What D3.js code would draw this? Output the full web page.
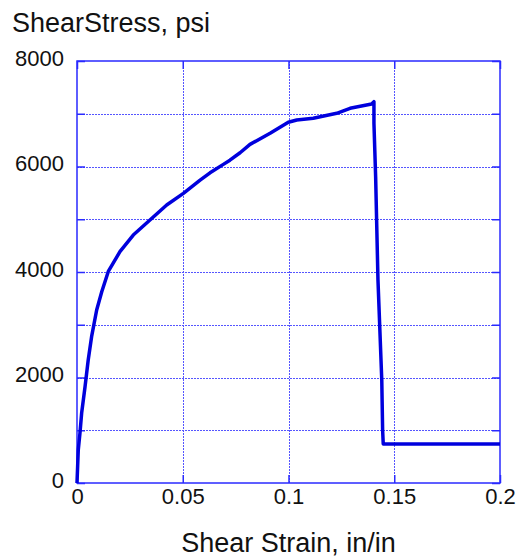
<!DOCTYPE html>
<html>
<head>
<meta charset="utf-8">
<script src="https://cdn.jsdelivr.net/npm/d3@7"></script>
<style>
  body { margin: 0; background: #fff; }
  svg { font-family: "Liberation Sans", Arial, sans-serif; }
</style>
</head>
<body>
<svg width="522" height="560"></svg>
<script>
// values
var strain = [0, 0.0006, 0.0014, 0.0022, 0.0038, 0.0053, 0.0069, 0.0093, 0.0117, 0.0148,
  0.0203, 0.0266, 0.0345, 0.0424, 0.0503, 0.0582, 0.0629, 0.0692, 0.0723, 0.0771,
  0.0818, 0.0913, 0.0999, 0.1039, 0.1117, 0.1228, 0.1291, 0.1393, 0.1404, 0.1404,
  0.1412, 0.1423, 0.1441, 0.1445, 0.1448, 0.2];
var stress = [0, 625, 945, 1327, 1826, 2332, 2774, 3280, 3627, 4010,
  4385, 4700, 4986, 5270, 5490, 5740, 5880, 6040, 6120, 6260,
  6420, 6630, 6838, 6882, 6914, 7009, 7103, 7185, 7229, 6820,
  5807, 3850, 1953, 1005, 740, 740];

var xTicks = [0, 0.05, 0.1, 0.15, 0.2];
var yTicks = [0, 1000, 2000, 3000, 4000, 5000, 6000, 7000, 8000];

var svg = d3.select("svg"),
    margin = {top: 61, left: 77, right: 22, bottom: 77},
    width = +svg.attr("width") - margin.left - margin.right,
    height = +svg.attr("height") - margin.top - margin.bottom;

var blue = "#2a2aff";
var gridBlue = "#5555ff";

var x = d3.scaleLinear().domain([0, 0.2]).range([0, width]);
var y = d3.scaleLinear().domain([0, 8000]).range([height, 0]);

var g = svg.append("g")
    .attr("transform", "translate(" + margin.left + "," + margin.top + ")");

// dotted grid
g.append("g").selectAll("line")
    .data(xTicks.slice(1, -1))
    .enter().append("line")
    .attr("x1", d => Math.round(x(d)) + 0.5).attr("x2", d => Math.round(x(d)) + 0.5)
    .attr("y1", 0).attr("y2", height)
    .attr("stroke", gridBlue).attr("stroke-width", 1)
    .attr("stroke-dasharray", "2,1");

g.append("g").selectAll("line")
    .data(yTicks.slice(1, -1))
    .enter().append("line")
    .attr("y1", d => Math.round(y(d)) + 0.5).attr("y2", d => Math.round(y(d)) + 0.5)
    .attr("x1", 0).attr("x2", width)
    .attr("stroke", gridBlue).attr("stroke-width", 1)
    .attr("stroke-dasharray", "2,1");

// axes with inside ticks on all four sides
function style(sel) {
  sel.select(".domain").remove();
  sel.selectAll(".tick line").attr("stroke", blue).attr("stroke-width", 1.5);
  sel.selectAll("text").attr("fill", "#111").attr("font-size", 22);
}

g.append("g")
    .call(d3.axisLeft(y).tickValues(yTicks).tickSize(-8).tickPadding(13)
      .tickFormat(d => d % 2000 === 0 ? d : ""))
    .call(style)
    .selectAll("text").attr("dy", "0.2em");

g.append("g")
    .attr("transform", "translate(" + width + ",0)")
    .call(d3.axisRight(y).tickValues(yTicks).tickSize(-8).tickFormat(""))
    .call(style);

g.append("g")
    .attr("transform", "translate(0," + height + ")")
    .call(d3.axisBottom(x).tickValues(xTicks).tickSize(-8).tickPadding(5)
      .tickFormat(d => String(d)))
    .call(style);

g.append("g")
    .call(d3.axisTop(x).tickValues(xTicks).tickSize(-8).tickFormat(""))
    .call(style);

// frame
g.append("rect")
    .attr("width", width).attr("height", height)
    .attr("fill", "none").attr("stroke", blue).attr("stroke-width", 1.5);

// curve
var line = d3.line()
    .x((d, i) => x(strain[i]))
    .y((d, i) => y(stress[i]));

g.append("path")
    .datum(stress)
    .attr("d", line)
    .attr("fill", "none")
    .attr("stroke", "#0000dd")
    .attr("stroke-width", 3.5)
    .attr("stroke-linejoin", "round");

// titles
svg.append("text")
    .attr("x", 12).attr("y", 32)
    .attr("font-size", 27).attr("fill", "#111")
    .text("ShearStress, psi");

svg.append("text")
    .attr("x", margin.left + width / 2).attr("y", 552)
    .attr("text-anchor", "middle")
    .attr("font-size", 27).attr("fill", "#111")
    .text("Shear Strain, in/in");
</script>
</body>
</html>
